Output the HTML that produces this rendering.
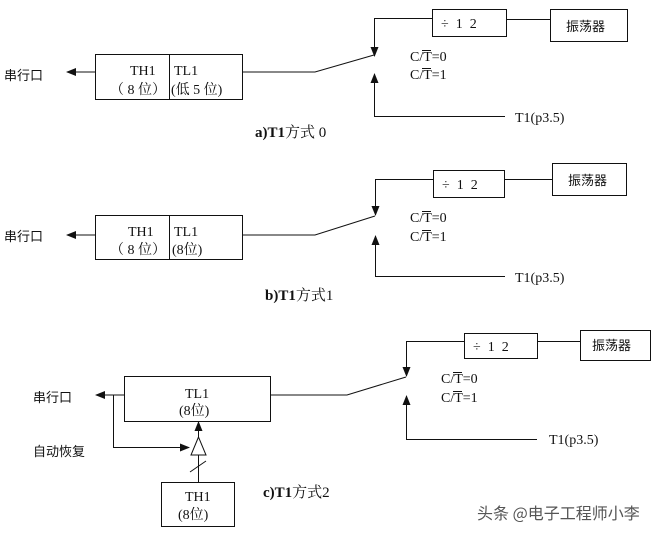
<!DOCTYPE html>
<html><head><meta charset="utf-8"><style>
html,body{margin:0;padding:0;background:#fff;width:661px;height:537px;overflow:hidden}
svg{display:block}
.s{font-family:"Liberation Serif","Noto Serif CJK SC",serif;font-size:14px;fill:#111}
.c{font-family:"Liberation Sans","Noto Sans CJK SC",sans-serif;font-size:13px;fill:#111}
.b{font-family:"Liberation Serif","Noto Serif CJK SC",serif;font-size:15px;fill:#111}
</style></head><body>
<svg width="661" height="537" viewBox="0 0 661 537" stroke="#111" stroke-width="1" fill="none">
<defs><marker id="a" markerWidth="10" markerHeight="8" refX="9" refY="4" orient="auto" markerUnits="userSpaceOnUse"><path d="M0,0 L10,4 L0,8z" fill="#111" stroke="none"/></marker></defs>

<!-- panel a -->
<rect x="95.5" y="54.5" width="147" height="45"/><line x1="169.5" y1="54" x2="169.5" y2="99"/>
<line x1="95" y1="72" x2="67" y2="72" marker-end="url(#a)"/>
<polyline points="242,72 315,72 374,55"/>
<polyline points="432,18.5 374.5,18.5 374.5,56" marker-end="url(#a)"/>
<polyline points="505,116.5 374.5,116.5 374.5,74" marker-end="url(#a)"/>
<rect x="432.5" y="9.5" width="74" height="27"/><line x1="506" y1="19.5" x2="550" y2="19.5"/>
<rect x="550.5" y="9.5" width="77" height="32"/>
<g stroke="none">
<text class="c" x="4" y="80">串行口</text>
<text class="s" x="130" y="75">TH1</text><text class="s" x="110" y="94">（ 8 位）</text>
<text class="s" x="174" y="75">TL1</text><text class="s" x="171" y="94">(低 5 位)</text>
<text class="s" x="441" y="28">÷<tspan dx="7">1</tspan><tspan dx="7">2</tspan></text><text class="c" x="566" y="31">振荡器</text>
<text class="s" x="410" y="61">C/T=0</text><text class="s" x="410" y="79">C/T=1</text>
<text class="s" x="515" y="122">T1(p3.5)</text>
<text class="b" x="255" y="137" font-weight="bold">a)T1<tspan font-weight="normal">方式 0</tspan></text>
</g>
<line x1="422" y1="50.5" x2="431" y2="50.5"/><line x1="422" y1="68.5" x2="431" y2="68.5"/>

<!-- panel b -->
<rect x="95.5" y="215.5" width="147" height="44"/><line x1="169.5" y1="215" x2="169.5" y2="259"/>
<line x1="95" y1="235" x2="67" y2="235" marker-end="url(#a)"/>
<polyline points="242,235 315,235 375,216"/>
<polyline points="433,179.5 375.5,179.5 375.5,215" marker-end="url(#a)"/>
<polyline points="505,276.5 375.5,276.5 375.5,236" marker-end="url(#a)"/>
<rect x="433.5" y="170.5" width="71" height="27"/><line x1="505" y1="179.5" x2="552" y2="179.5"/>
<rect x="552.5" y="163.5" width="74" height="32"/>
<g stroke="none">
<text class="c" x="4" y="241">串行口</text>
<text class="s" x="128" y="236">TH1</text><text class="s" x="110" y="254">（ 8 位）</text>
<text class="s" x="174" y="236">TL1</text><text class="s" x="172" y="254">(8位)</text>
<text class="s" x="442" y="189">÷<tspan dx="7">1</tspan><tspan dx="7">2</tspan></text><text class="c" x="568" y="185">振荡器</text>
<text class="s" x="410" y="222">C/T=0</text><text class="s" x="410" y="241">C/T=1</text>
<text class="s" x="515" y="282">T1(p3.5)</text>
<text class="b" x="265" y="300" font-weight="bold">b)T1<tspan font-weight="normal">方式1</tspan></text>
</g>
<line x1="422" y1="211.5" x2="431" y2="211.5"/><line x1="422" y1="230.5" x2="431" y2="230.5"/>

<!-- panel c -->
<rect x="124.5" y="376.5" width="146" height="45"/>
<line x1="124" y1="395" x2="96" y2="395" marker-end="url(#a)"/>
<polyline points="113.5,395 113.5,447.5 189,447.5" marker-end="url(#a)"/>
<polygon points="198.5,437 191,455 206,455"/>
<line x1="198.5" y1="437" x2="198.5" y2="422" marker-end="url(#a)"/>
<line x1="198.5" y1="455" x2="198.5" y2="482"/>
<line x1="190" y1="472" x2="206" y2="461"/>
<rect x="161.5" y="482.5" width="73" height="44"/>
<polyline points="271,395 347,395 406,377"/>
<polyline points="464,341.5 406.5,341.5 406.5,376" marker-end="url(#a)"/>
<polyline points="537,439.5 406.5,439.5 406.5,396" marker-end="url(#a)"/>
<rect x="464.5" y="333.5" width="73" height="25"/><line x1="537" y1="341.5" x2="580" y2="341.5"/>
<rect x="580.5" y="330.5" width="70" height="30"/>
<g stroke="none">
<text class="c" x="33" y="402">串行口</text>
<text class="c" x="33" y="456">自动恢复</text>
<text class="s" x="185" y="398">TL1</text><text class="s" x="179" y="415">(8位)</text>
<text class="s" x="185" y="501">TH1</text><text class="s" x="178" y="519">(8位)</text>
<text class="s" x="473" y="351">÷<tspan dx="7">1</tspan><tspan dx="7">2</tspan></text><text class="c" x="592" y="350">振荡器</text>
<text class="s" x="441" y="383">C/T=0</text><text class="s" x="441" y="402">C/T=1</text>
<text class="s" x="549" y="444">T1(p3.5)</text>
<text class="b" x="263" y="497" font-weight="bold">c)T1<tspan font-weight="normal">方式2</tspan></text>
<text x="477" y="519" font-family="'Noto Sans CJK SC',sans-serif" font-size="16" fill="#555">头条 @电子工程师小李</text>
</g>
<line x1="453" y1="372.5" x2="462" y2="372.5"/><line x1="453" y1="391.5" x2="462" y2="391.5"/>
</svg>
</body></html>
